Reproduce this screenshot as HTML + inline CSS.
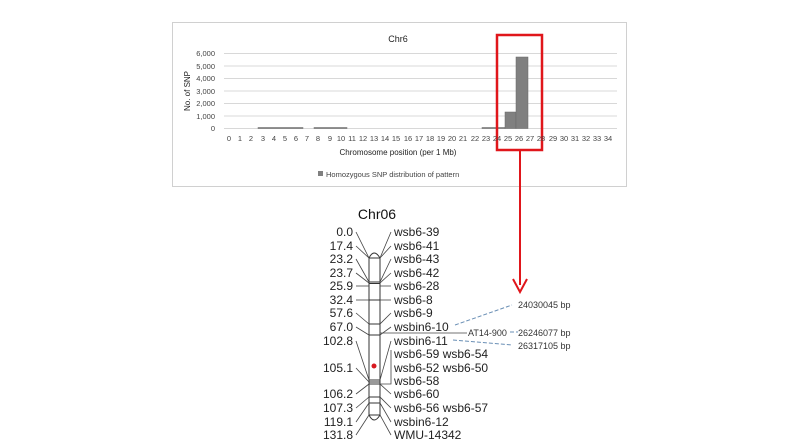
<!DOCTYPE html><html><head><style>body{margin:0;background:#fff}svg{display:block}</style></head><body>
<svg width="800" height="447" xmlns="http://www.w3.org/2000/svg" font-family="Liberation Sans, sans-serif">
<rect x="172.5" y="22.5" width="454" height="164" fill="#fff" stroke="#d0d0d0"/>
<text x="398" y="42" font-size="9" text-anchor="middle" fill="#222">Chr6</text>
<g stroke="#d8d8d8" stroke-width="1">
<line x1="224" y1="53.5" x2="617" y2="53.5"/><line x1="224" y1="66" x2="617" y2="66"/><line x1="224" y1="78.5" x2="617" y2="78.5"/><line x1="224" y1="91" x2="617" y2="91"/><line x1="224" y1="103.5" x2="617" y2="103.5"/><line x1="224" y1="116" x2="617" y2="116"/><line x1="224" y1="128.5" x2="617" y2="128.5"/>
</g>
<g font-size="7.5" fill="#444" text-anchor="end">
<text x="215" y="56">6,000</text><text x="215" y="69">5,000</text><text x="215" y="81">4,000</text><text x="215" y="94">3,000</text><text x="215" y="106">2,000</text><text x="215" y="119">1,000</text><text x="215" y="131">0</text>
</g>
<text transform="translate(190,91) rotate(-90)" font-size="8" text-anchor="middle" fill="#222">No. of SNP</text>
<g fill="#808080" stroke="#666" stroke-width="0.5">
<rect x="258" y="127.5" width="45" height="1"/><rect x="314" y="127.5" width="33" height="1"/><rect x="482" y="127.5" width="23" height="1"/>
<rect x="505" y="112" width="11" height="16.5"/><rect x="516" y="57" width="12" height="71.5"/>
</g>
<g font-size="7.5" fill="#444" text-anchor="middle" id="xl"></g>
<text x="398" y="155" font-size="8" text-anchor="middle" fill="#222">Chromosome position (per 1 Mb)</text>
<rect x="318" y="171" width="5" height="5" fill="#808080"/>
<text x="326" y="177" font-size="7.5" fill="#444">Homozygous SNP distribution of pattern</text>
<rect x="497" y="35" width="45" height="115" fill="none" stroke="#e0161b" stroke-width="2.5"/>
<line x1="520" y1="150" x2="520" y2="285" stroke="#e0161b" stroke-width="2"/>
<path d="M513 279 L520 292 L527 279" fill="none" stroke="#e0161b" stroke-width="2"/>
<text x="377" y="219" font-size="14" text-anchor="middle" fill="#111">Chr06</text>
<path d="M369 258 Q374 248 380 258 L380 415 Q374 425 369 415 Z" fill="#fff" stroke="#333" stroke-width="1"/>
<g stroke="#333" stroke-width="1"><line x1="369" y1="258" x2="380" y2="258"/><line x1="369" y1="282" x2="380" y2="282"/><line x1="369" y1="283.5" x2="380" y2="283.5"/><line x1="369" y1="300" x2="380" y2="300"/><line x1="369" y1="324" x2="380" y2="324"/><line x1="369" y1="335" x2="380" y2="335"/><line x1="369" y1="380" x2="380" y2="380"/><line x1="369" y1="382" x2="380" y2="382"/><line x1="369" y1="384" x2="380" y2="384"/><line x1="369" y1="397" x2="380" y2="397"/><line x1="369" y1="403" x2="380" y2="403"/><line x1="369" y1="415" x2="380" y2="415"/></g>
<circle cx="374" cy="366" r="2.5" fill="#d71920"/>
<g font-size="12" fill="#222" text-anchor="end">
<text x="353" y="236">0.0</text><text x="353" y="250">17.4</text><text x="353" y="263">23.2</text><text x="353" y="277">23.7</text><text x="353" y="290">25.9</text><text x="353" y="304">32.4</text><text x="353" y="317">57.6</text><text x="353" y="331">67.0</text><text x="353" y="345">102.8</text><text x="353" y="372">105.1</text><text x="353" y="398">106.2</text><text x="353" y="412">107.3</text><text x="353" y="426">119.1</text><text x="353" y="439">131.8</text>
</g>
<g font-size="12" fill="#222">
<text x="394" y="236">wsb6-39</text><text x="394" y="250">wsb6-41</text><text x="394" y="263">wsb6-43</text><text x="394" y="277">wsb6-42</text><text x="394" y="290">wsb6-28</text><text x="394" y="304">wsb6-8</text><text x="394" y="317">wsb6-9</text><text x="394" y="331">wsbin6-10</text><text x="394" y="345">wsbin6-11</text><text x="394" y="358">wsb6-59 wsb6-54</text><text x="394" y="372">wsb6-52 wsb6-50</text><text x="394" y="385">wsb6-58</text><text x="394" y="398">wsb6-60</text><text x="394" y="412">wsb6-56 wsb6-57</text><text x="394" y="426">wsbin6-12</text><text x="394" y="439">WMU-14342</text>
</g>
<g stroke="#444" stroke-width="0.8" fill="none">
<path d="M356 232 L369 258"/><path d="M356 246 L369 258"/><path d="M356 259 L369 282"/><path d="M356 273 L369 283"/><path d="M356 286 L369 286"/><path d="M356 300 L369 300"/><path d="M356 313 L369 324"/><path d="M356 327 L369 335"/><path d="M356 341 L369 380"/><path d="M356 368 L369 382"/><path d="M356 394 L369 384"/><path d="M356 408 L369 397"/><path d="M356 422 L369 403"/><path d="M356 435 L369 415"/>
<path d="M391 232 L380 258"/><path d="M391 246 L380 258"/><path d="M391 259 L380 282"/><path d="M391 273 L380 283"/><path d="M391 286 L380 286"/><path d="M391 300 L380 300"/><path d="M391 313 L380 324"/><path d="M391 327 L380 335"/><path d="M391 341 L380 380"/><path d="M391 350 L391 384 L380 384"/><path d="M391 394 L380 384"/><path d="M391 408 L380 397"/><path d="M391 422 L380 403"/><path d="M391 435 L380 415"/>
<path d="M380 333 L467 333"/>
</g>
<g stroke="#6a8fb5" stroke-width="1" stroke-dasharray="4,2" fill="none">
<path d="M455 325 L512 305"/><path d="M510 332 L518 332"/><path d="M453 340 L512 345"/>
</g>
<g font-size="9" fill="#333">
<text x="518" y="308">24030045 bp</text><text x="468" y="336">AT14-900</text><text x="518" y="336">26246077 bp</text><text x="518" y="349">26317105 bp</text>
</g>
<g font-size="7.5" fill="#444" text-anchor="middle">
<text x="229" y="141">0</text><text x="240" y="141">1</text><text x="251" y="141">2</text><text x="263" y="141">3</text><text x="274" y="141">4</text><text x="285" y="141">5</text><text x="296" y="141">6</text><text x="307" y="141">7</text><text x="318" y="141">8</text><text x="330" y="141">9</text><text x="341" y="141">10</text><text x="352" y="141">11</text><text x="363" y="141">12</text><text x="374" y="141">13</text><text x="385" y="141">14</text><text x="396" y="141">15</text><text x="408" y="141">16</text><text x="419" y="141">17</text><text x="430" y="141">18</text><text x="441" y="141">19</text><text x="452" y="141">20</text><text x="463" y="141">21</text><text x="475" y="141">22</text><text x="486" y="141">23</text><text x="497" y="141">24</text><text x="508" y="141">25</text><text x="519" y="141">26</text><text x="530" y="141">27</text><text x="541" y="141">28</text><text x="553" y="141">29</text><text x="564" y="141">30</text><text x="575" y="141">31</text><text x="586" y="141">32</text><text x="597" y="141">33</text><text x="608" y="141">34</text>
</g>
</svg></body></html>
